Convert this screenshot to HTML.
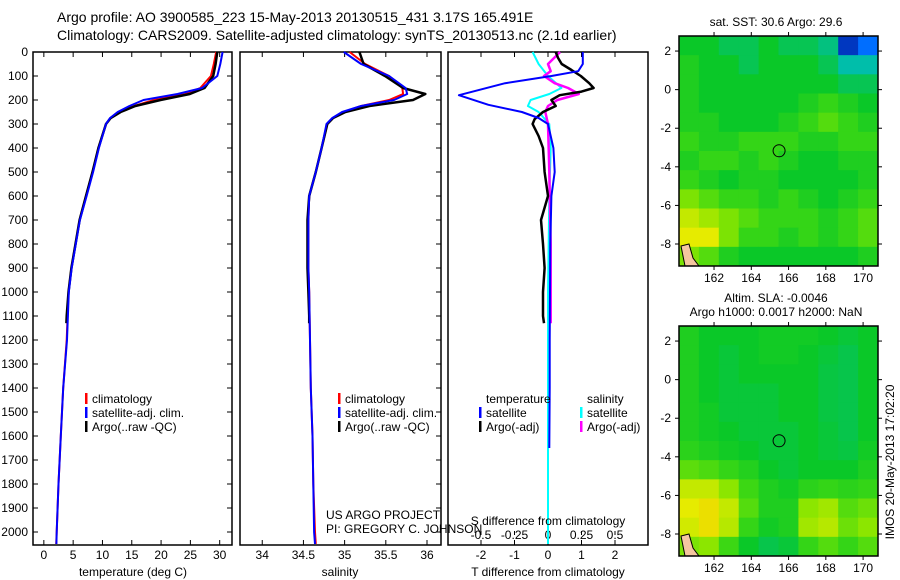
<!DOCTYPE html>
<html><head><meta charset="utf-8">
<style>
body{margin:0;background:#fff;}
svg{display:block;font-family:"Liberation Sans",sans-serif;}
</style></head>
<body>
<svg id="fig" width="900" height="580" xmlns="http://www.w3.org/2000/svg">
<text x="57" y="22" font-size="14">Argo profile: AO 3900585_223 15-May-2013 20130515_431 3.17S 165.491E</text>
<text x="57" y="40" font-size="14">Climatology: CARS2009. Satellite-adjusted climatology: synTS_20130513.nc (2.1d earlier)</text>
</svg>
<script>
// ---- data ----
const depthTicks=[0,100,200,300,400,500,600,700,800,900,1000,1100,1200,1300,1400,1500,1600,1700,1800,1900,2000];
const tTicks=[0,5,10,15,20,25,30];
const sTicks=[34,34.5,35,35.5,36];
const dTTicks=[-2,-1,0,1,2];
const dSTicks=[-0.5,-0.25,0,0.25,0.5];
const dSTickLabels=["-0.5","-0.25","0","0.25","0.5"];
const argoDepth=[0,50,100,150,175,200,225,250,275,300,400,500,600,700,800,900,1000,1100,1130];
const argoT=[29.6,29.3,28.9,27.4,24.9,19.9,15.6,13.1,11.4,10.6,9.3,8.3,7.2,6.1,5.4,4.7,4.2,3.9,3.85];
const argoS=[35.18,35.23,35.49,35.71,35.98,35.83,35.3,35.01,34.86,34.79,34.72,34.65,34.57,34.55,34.55,34.55,34.56,34.57,34.57];
const climDepth=[0,50,100,150,175,200,225,250,275,300,400,500,600,700,800,900,1000,1200,1400,1600,1800,2000,2050];
const climT=[29.4,29.0,28.5,26.7,24.2,18.8,15.4,13.0,11.4,10.6,9.3,8.3,7.2,6.1,5.4,4.7,4.2,3.9,3.3,2.9,2.5,2.2,2.1];
const satT=[30.5,30.1,29.6,27.0,22.8,17.0,14.6,12.6,11.3,10.6,9.4,8.4,7.3,6.15,5.45,4.75,4.25,3.95,3.3,2.9,2.5,2.2,2.15];
const climS=[35.06,35.25,35.54,35.7,35.71,35.54,35.2,34.99,34.86,34.79,34.72,34.65,34.57,34.56,34.56,34.56,34.57,34.58,34.59,34.61,34.62,34.64,34.65];
const satS=[34.99,35.2,35.54,35.74,35.76,35.6,35.2,34.97,34.85,34.78,34.72,34.65,34.57,34.56,34.56,34.56,34.57,34.58,34.59,34.61,34.62,34.63,34.64];
const dDepthSat=[0,50,80,100,130,180,220,250,275,300,400,500,600,800,1000,1200,1400,1650];
const dTSat=[1.04,1.04,0.9,0.1,-1.28,-2.66,-1.78,-0.78,-0.28,0,0.16,0.2,0.1,0.07,0.06,0.05,0.05,0.04];
const dDepthArgo=[0,25,50,75,100,130,150,165,180,200,225,250,280,300,350,400,500,600,700,800,900,1000,1100,1130];
const dTArgo=[0.23,0.3,0.41,0.7,0.98,1.23,1.36,1.0,0.35,0.1,0.23,-0.15,-0.4,-0.46,-0.28,-0.15,-0.1,0.0,-0.21,-0.15,-0.1,-0.15,-0.15,-0.12];
const dDepthSS=[0,50,100,150,175,200,225,250,300,400,600,1000,2050];
const dSSat=[-0.115,-0.07,0,0.1,0.01,-0.13,-0.15,-0.07,0.01,0.02,0.01,0.0,0.0];
const dDepthSA=[0,50,80,100,130,150,175,200,225,250,300,500,800,1100,1130];
const dSArgo=[0.09,0,0.02,-0.03,0.05,0.15,0.23,0.07,0,-0.02,0,0.01,0.02,0.02,0.02];
const sstGrid=[
[0.5,0.5,0.45,0.45,0.5,0.45,0.45,0.4,0.1,0.2],
[0.55,0.5,0.5,0.45,0.5,0.5,0.5,0.45,0.35,0.35],
[0.55,0.5,0.5,0.5,0.5,0.5,0.5,0.5,0.45,0.45],
[0.55,0.5,0.5,0.5,0.5,0.5,0.55,0.6,0.55,0.5],
[0.55,0.55,0.5,0.5,0.5,0.55,0.6,0.65,0.6,0.55],
[0.6,0.55,0.55,0.6,0.6,0.6,0.55,0.55,0.6,0.6],
[0.55,0.6,0.6,0.55,0.6,0.55,0.5,0.5,0.55,0.55],
[0.6,0.55,0.5,0.55,0.55,0.5,0.5,0.5,0.5,0.55],
[0.7,0.65,0.6,0.6,0.55,0.6,0.55,0.5,0.55,0.6],
[0.8,0.75,0.7,0.65,0.6,0.6,0.6,0.55,0.6,0.65],
[0.85,0.85,0.7,0.6,0.6,0.55,0.6,0.55,0.6,0.65],
[0.7,0.65,0.55,0.5,0.5,0.5,0.5,0.5,0.5,0.55]];
const slaGrid=[
[0.55,0.5,0.5,0.5,0.52,0.52,0.52,0.5,0.48,0.5],
[0.55,0.5,0.48,0.5,0.52,0.52,0.5,0.48,0.46,0.5],
[0.55,0.5,0.48,0.5,0.5,0.5,0.5,0.47,0.46,0.5],
[0.55,0.5,0.48,0.48,0.48,0.5,0.5,0.47,0.46,0.5],
[0.55,0.52,0.48,0.48,0.48,0.5,0.5,0.47,0.46,0.5],
[0.55,0.52,0.5,0.48,0.48,0.48,0.5,0.48,0.46,0.5],
[0.58,0.55,0.52,0.5,0.48,0.48,0.5,0.48,0.47,0.52],
[0.66,0.64,0.6,0.56,0.5,0.48,0.5,0.5,0.5,0.55],
[0.8,0.8,0.72,0.62,0.55,0.52,0.58,0.6,0.58,0.6],
[0.85,0.9,0.8,0.65,0.55,0.55,0.72,0.75,0.65,0.68],
[0.82,0.9,0.78,0.6,0.52,0.55,0.75,0.78,0.68,0.72],
[0.7,0.72,0.62,0.5,0.46,0.48,0.6,0.65,0.6,0.65]];

const NS="http://www.w3.org/2000/svg";
const svg=document.getElementById('fig');
function el(tag,attrs,parent){const e=document.createElementNS(NS,tag);for(const k in attrs)e.setAttribute(k,attrs[k]);(parent||svg).appendChild(e);return e;}
function txt(x,y,s,size,anchor,parent){const t=el('text',{x:x,y:y,'font-size':size,'text-anchor':anchor||'start'},parent);t.textContent=s;return t;}

const yTop=52,yPx=0.24,yBot=545;
function yD(d){return yTop+d*yPx;}
function panel(name,x0,x1,vmin,vmax){
  const g=el('g',{});
  
  
  const r=el('rect',{x:x0,y:yTop,width:x1-x0,height:yBot-yTop,fill:'none',stroke:'#000','stroke-width':1.5},g);
  
  
  return {g:g,x:v=>x0+(v-vmin)/(vmax-vmin)*(x1-x0),x0:x0,x1:x1};
}
function line(p,vals,depths,color,w,name){
  const pts=vals.map((v,i)=>p.x(v).toFixed(1)+','+yD(depths[i]).toFixed(1)).join(' ');
  const l=el('polyline',{points:pts,fill:'none',stroke:color,'stroke-width':w,'stroke-linejoin':'round'},p.g);
  
  
}
function xTicks(p,ticks,labels,ty,fromBottom){
  ticks.forEach((t,i)=>{
    const x=p.x(t);
    if(fromBottom){el('line',{x1:x,y1:yBot,x2:x,y2:yBot-5,stroke:'#000'},p.g);el('line',{x1:x,y1:yTop,x2:x,y2:yTop+5,stroke:'#000'},p.g);}
    const lab=txt(x,ty,labels[i],12,'middle',p.g);
    
    
  });
}
function legend(p,x,y,items){
  items.forEach((it,i)=>{
    el('rect',{x:x,y:y+i*14-10,width:2.5,height:11,fill:it[1]},p.g);
    const t=txt(x+7,y+i*14,it[0],12,'start',p.g);
    
    
  });
}

const p1=panel('temperature-panel',33,232,-1.85,32.1);
depthTicks.forEach(d=>{
  el('line',{x1:33,y1:yD(d),x2:38,y2:yD(d),stroke:'#000'},p1.g);
  el('line',{x1:227,y1:yD(d),x2:232,y2:yD(d),stroke:'#000'},p1.g);
  const t=txt(28,yD(d)+4,String(d),12,'end',p1.g);
  
  
});
xTicks(p1,tTicks,tTicks.map(String),559,true);
line(p1,climT,climDepth,'#f00',2,'temperature-climatology-line');
line(p1,argoT,argoDepth,'#000',2.5,'temperature-argo-line');
line(p1,satT,climDepth,'#00f',2,'temperature-satellite-line');
legend(p1,85,403,[['climatology','#f00'],['satellite-adj. clim.','#00f'],['Argo(..raw -QC)','#000']]);
let xl=txt(133,576,'temperature (deg C)',12,'middle',p1.g);


const p2=panel('salinity-panel',240,441,33.73,36.17);
depthTicks.forEach(d=>{el('line',{x1:436,y1:yD(d),x2:441,y2:yD(d),stroke:'#000'},p2.g);});
xTicks(p2,sTicks,sTicks.map(String),559,true);
line(p2,climS,climDepth,'#f00',2,'salinity-climatology-line');
line(p2,argoS,argoDepth,'#000',2.5,'salinity-argo-line');
line(p2,satS,climDepth,'#00f',2,'salinity-satellite-line');
legend(p2,338,403,[['climatology','#f00'],['satellite-adj. clim.','#00f'],['Argo(..raw -QC)','#000']]);
txt(326,519,'US ARGO PROJECT',12,'start',p2.g);
txt(326,533,'PI: GREGORY C. JOHNSON',12,'start',p2.g);
xl=txt(340,576,'salinity',12,'middle',p2.g);


const p3=panel('difference-panel',448,648,-2.985,2.985);
xTicks(p3,dTTicks,dTTicks.map(String),559,true);
const p3s={g:p3.g,x:v=>p3.x(v*4)};
dSTicks.forEach((t,i)=>{const x=p3s.x(t);el('line',{x1:x,y1:yBot-14,x2:x,y2:yBot-10,stroke:'#000'},p3.g);});
xTicks(p3s,dSTicks,dSTickLabels,539,false);
line(p3s,dSSat,dDepthSS,'#0ff',2,'salinity-diff-satellite-line');
line(p3s,dSArgo,dDepthSA,'#f0f',2.5,'salinity-diff-argo-line');
line(p3,dTArgo,dDepthArgo,'#000',2.5,'temperature-diff-argo-line');
line(p3,dTSat,dDepthSat,'#00f',2,'temperature-diff-satellite-line');
txt(486,403,'temperature',12,'start',p3.g);
txt(587,403,'salinity',12,'start',p3.g);
legend(p3,479,417,[['satellite','#00f'],['Argo(-adj)','#000']]);
legend(p3,580,417,[['satellite','#0ff'],['Argo(-adj)','#f0f']]);
txt(548,525,'S difference from climatology',12,'middle',p3.g);
xl=txt(548,576,'T difference from climatology',12,'middle',p3.g);


function colorFor(v){
  const stops=[[0,[0,0,128]],[0.2,[0,110,255]],[0.35,[0,190,170]],[0.5,[10,200,40]],[0.62,[60,215,20]],[0.72,[140,230,0]],[0.85,[230,235,0]],[1,[245,200,0]]];
  for(let i=1;i<stops.length;i++){if(v<=stops[i][0]){const a=stops[i-1],b=stops[i],f=(v-a[0])/(b[0]-a[0]);return 'rgb('+a[1].map((c,j)=>Math.round(c+(b[1][j]-c)*f)).join(',')+')';}}
  return 'rgb(245,200,0)';
}
function drawMap(name,top,bot,grid,title1,title2){
  const L=679,R=878,lon0=160.12,lon1=170.8,lat0=2.78,lat1=-9.14;
  const g=el('g',{});
  
  
  const lx=v=>L+(v-lon0)/(lon1-lon0)*(R-L), ly=v=>top+(lat0-v)/(lat0-lat1)*(bot-top);
  const nr=grid.length,nc=grid[0].length,cw=(R-L)/nc,ch=(bot-top)/nr;
  grid.forEach((row,i)=>row.forEach((v,j)=>{
    const c=el('rect',{x:L+j*cw,y:top+i*ch,width:cw+0.5,height:ch+0.5,fill:colorFor(v)},g);
    
    
  }));
  el('polygon',{points:(L+2)+','+(bot-20)+' '+(L+10)+','+(bot-22)+' '+(L+14)+','+(bot-8)+' '+(L+20)+','+bot+' '+(L+6)+','+bot,fill:'#f5c6a0',stroke:'#000','stroke-width':1},g);
  el('rect',{x:L,y:top,width:R-L,height:bot-top,fill:'none',stroke:'#000','stroke-width':1.5},g);
  const m=el('circle',{cx:lx(165.491),cy:ly(-3.17),r:6,fill:'none',stroke:'#000','stroke-width':1},g);
  
  
  [2,0,-2,-4,-6,-8].forEach(v=>{const y=ly(v);el('line',{x1:L-4,y1:y,x2:L,y2:y,stroke:'#000'},g);el('line',{x1:R,y1:y,x2:R+4,y2:y,stroke:'#000'},g);txt(L-8,y+4,String(v),12,'end',g);});
  [162,164,166,168,170].forEach(v=>{const x=lx(v);el('line',{x1:x,y1:bot,x2:x,y2:bot+4,stroke:'#000'},g);el('line',{x1:x,y1:top-4,x2:x,y2:top,stroke:'#000'},g);txt(x,bot+16,String(v),12,'middle',g);});
  if(title1)txt(776,title2?top-24:top-10,title1,12,'middle',g);
  if(title2)txt(776,top-10,title2,12,'middle',g);
}
drawMap('sst-map',36,266,sstGrid,'sat. SST: 30.6 Argo: 29.6',null);
drawMap('sla-map',326,556,slaGrid,'Altim. SLA: -0.0046','Argo h1000: 0.0017 h2000: NaN');
const st=txt(0,0,'IMOS 20-May-2013 17:02:20',12,'middle');
st.setAttribute('transform','translate(894,462) rotate(-90)');


</script>
</body></html>
